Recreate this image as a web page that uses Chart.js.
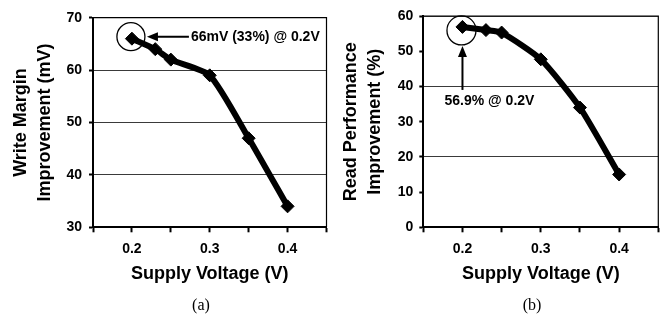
<!DOCTYPE html>
<html>
<head>
<meta charset="utf-8">
<script src="https://cdn.jsdelivr.net/npm/chart.js@4.4.1/dist/chart.umd.min.js"></script>
<style>
  html, body { margin: 0; padding: 0; background: #fff; }
  #wrap { position: relative; width: 669px; height: 314px; overflow: hidden; }
  canvas { position: absolute; top: 0; }
  #chartA { left: 0; }
  #chartB { left: 335px; }
  .cap { position: absolute; top: 297px; width: 40px; margin-left: -20px; text-align: center;
         font: 16px/16px "Liberation Serif", "Times New Roman", serif; color: #000; }
</style>
</head>
<body>
<div id="wrap">
  <canvas id="chartA" width="335" height="314"></canvas>
  <canvas id="chartB" width="334" height="314"></canvas>
  <div class="cap" style="left:201px">(a)</div>
  <div class="cap" style="left:532px">(b)</div>
</div>
<script>
// ------------------- Data -------------------
const voltsA = [0.2, 0.23, 0.25, 0.3, 0.35, 0.4];
const writeMargin = [66, 64, 62, 59, 47, 34];
const voltsB = [0.2, 0.23, 0.25, 0.3, 0.35, 0.4];
const readPerf = [56.9, 56, 55.3, 47.7, 34, 15];
const xLabelTicks = [0.2, 0.3, 0.4];
const gridA = [30, 40, 50, 60, 70];
const gridB = [0, 20, 40, 60];
const noteA = { x: 0.2, y: 66, text: '66mV (33%) @ 0.2V' };
const noteB = { x: 0.2, y: 56.9, text: '56.9% @ 0.2V' };

Chart.defaults.font.family = '"Liberation Sans", Arial, sans-serif';
Chart.defaults.font.weight = 'bold';
Chart.defaults.color = '#000';

// ------------------- Frame + callout plugin -------------------
const frameAndNote = {
    id: 'frameAndNote',
    afterDraw(chart, args, opts) {
        const ctx = chart.ctx;
        const a = chart.chartArea;
        ctx.save();
        ctx.strokeStyle = '#000';
        ctx.fillStyle = '#000';
        ctx.lineWidth = 1.2;
        ctx.beginPath();
        ctx.moveTo(a.left, a.top);
        ctx.lineTo(a.right, a.top);
        ctx.lineTo(a.right, a.bottom);
        ctx.stroke();

        const n = opts.note;
        const px = chart.scales.x.getPixelForValue(n.x);
        const py = chart.scales.y.getPixelForValue(n.y);

        // circle round the point
        ctx.lineWidth = 1.3;
        ctx.beginPath();
        ctx.arc(px + opts.circle[0], py + opts.circle[1], opts.circle[2], 0, Math.PI * 2);
        ctx.stroke();

        // arrow
        const tx = px + opts.tip[0], ty = py + opts.tip[1];
        const sx = px + opts.tail[0], sy = py + opts.tail[1];
        const ang = Math.atan2(ty - sy, tx - sx);
        ctx.lineWidth = 2;
        ctx.beginPath();
        ctx.moveTo(sx, sy);
        ctx.lineTo(tx - 8 * Math.cos(ang), ty - 8 * Math.sin(ang));
        ctx.stroke();
        ctx.beginPath();
        ctx.moveTo(tx, ty);
        ctx.lineTo(tx - 11 * Math.cos(ang) + 4.5 * Math.sin(ang), ty - 11 * Math.sin(ang) - 4.5 * Math.cos(ang));
        ctx.lineTo(tx - 11 * Math.cos(ang) - 4.5 * Math.sin(ang), ty - 11 * Math.sin(ang) + 4.5 * Math.cos(ang));
        ctx.closePath();
        ctx.fill();

        // label
        ctx.font = 'bold 14px "Liberation Sans", Arial, sans-serif';
        ctx.textAlign = 'left';
        ctx.textBaseline = 'middle';
        ctx.fillText(n.text, px + opts.label[0], py + opts.label[1]);
        ctx.restore();
    }
};

// ------------------- Chart builder -------------------
function makeChart(id, xs, ys, yTitle, yMin, yMax, gridVals, box, note) {
    const points = xs.map((x, i) => ({ x: x, y: ys[i] }));
    return new Chart(document.getElementById(id), {
        type: 'line',
        data: {
            datasets: [{
                data: points,
                borderColor: '#000',
                backgroundColor: '#000',
                borderWidth: 6,
                tension: 0.2,
                pointStyle: 'rectRot',
                pointRadius: 6.5,
                pointBorderWidth: 1,
                pointBackgroundColor: '#000',
                pointBorderColor: '#000',
                clip: false
            }]
        },
        options: {
            responsive: false,
            animation: false,
            events: [],
            layout: { padding: { left: 0, top: box.top, right: box.right, bottom: 0 } },
            plugins: {
                legend: { display: false },
                tooltip: { enabled: false },
                frameAndNote: note
            },
            scales: {
                x: {
                    type: 'linear',
                    min: 0.15,
                    max: 0.45,
                    afterFit: s => { s.height = box.xHeight; },
                    ticks: {
                        stepSize: 0.05,
                        autoSkip: false,
                        maxRotation: 0,
                        padding: 8,
                        font: { size: 14, weight: 'bold' },
                        callback: v => xLabelTicks.some(t => Math.abs(t - v) < 1e-6) ? v.toFixed(1) : ''
                    },
                    grid: { drawOnChartArea: false, drawTicks: true, tickLength: 5, tickColor: '#000', tickWidth: 2 },
                    border: { color: '#000', width: 2 },
                    title: {
                        display: true,
                        text: 'Supply Voltage (V)',
                        font: { size: 18, weight: 'bold', lineHeight: 1.2 },
                        padding: { top: 0, bottom: 29 }
                    }
                },
                y: {
                    min: yMin,
                    max: yMax,
                    afterFit: s => { s.width = box.yWidth; },
                    ticks: { stepSize: 10, padding: box.yPad, font: { size: 14, weight: 'bold' } },
                    grid: {
                        color: c => gridVals.includes(c.tick.value) ? '#3a3a3a' : 'rgba(0,0,0,0)',
                        lineWidth: 1,
                        tickLength: 4,
                        tickColor: '#000',
                        tickWidth: 2
                    },
                    border: { color: '#000', width: 2 },
                    title: {
                        display: true,
                        text: yTitle,
                        font: { size: 18, weight: 'bold', lineHeight: 1.333 },
                        padding: { top: box.titlePad, bottom: 0 }
                    }
                }
            }
        },
        plugins: [frameAndNote]
    });
}

makeChart('chartA', voltsA, writeMargin, ['Write Margin', 'Improvement (mV)'], 30, 70, gridA,
    { top: 17.7, right: 8.5, xHeight: 86.7, yWidth: 93, yPad: 7, titlePad: 9 },
    { note: noteA, circle: [-1, -2, 14], tip: [15, -2], tail: [57, -2], label: [59, -2] });

makeChart('chartB', voltsB, readPerf, ['Read Performance', 'Improvement (%)'], 0, 60, gridB,
    { top: 16, right: 10.7, xHeight: 86.7, yWidth: 88.3, yPad: 6, titlePad: 4 },
    { note: noteB, circle: [-1, 3.5, 14.5], tip: [0, 19], tail: [0, 63], label: [-18, 74] });
</script>
</body>
</html>
